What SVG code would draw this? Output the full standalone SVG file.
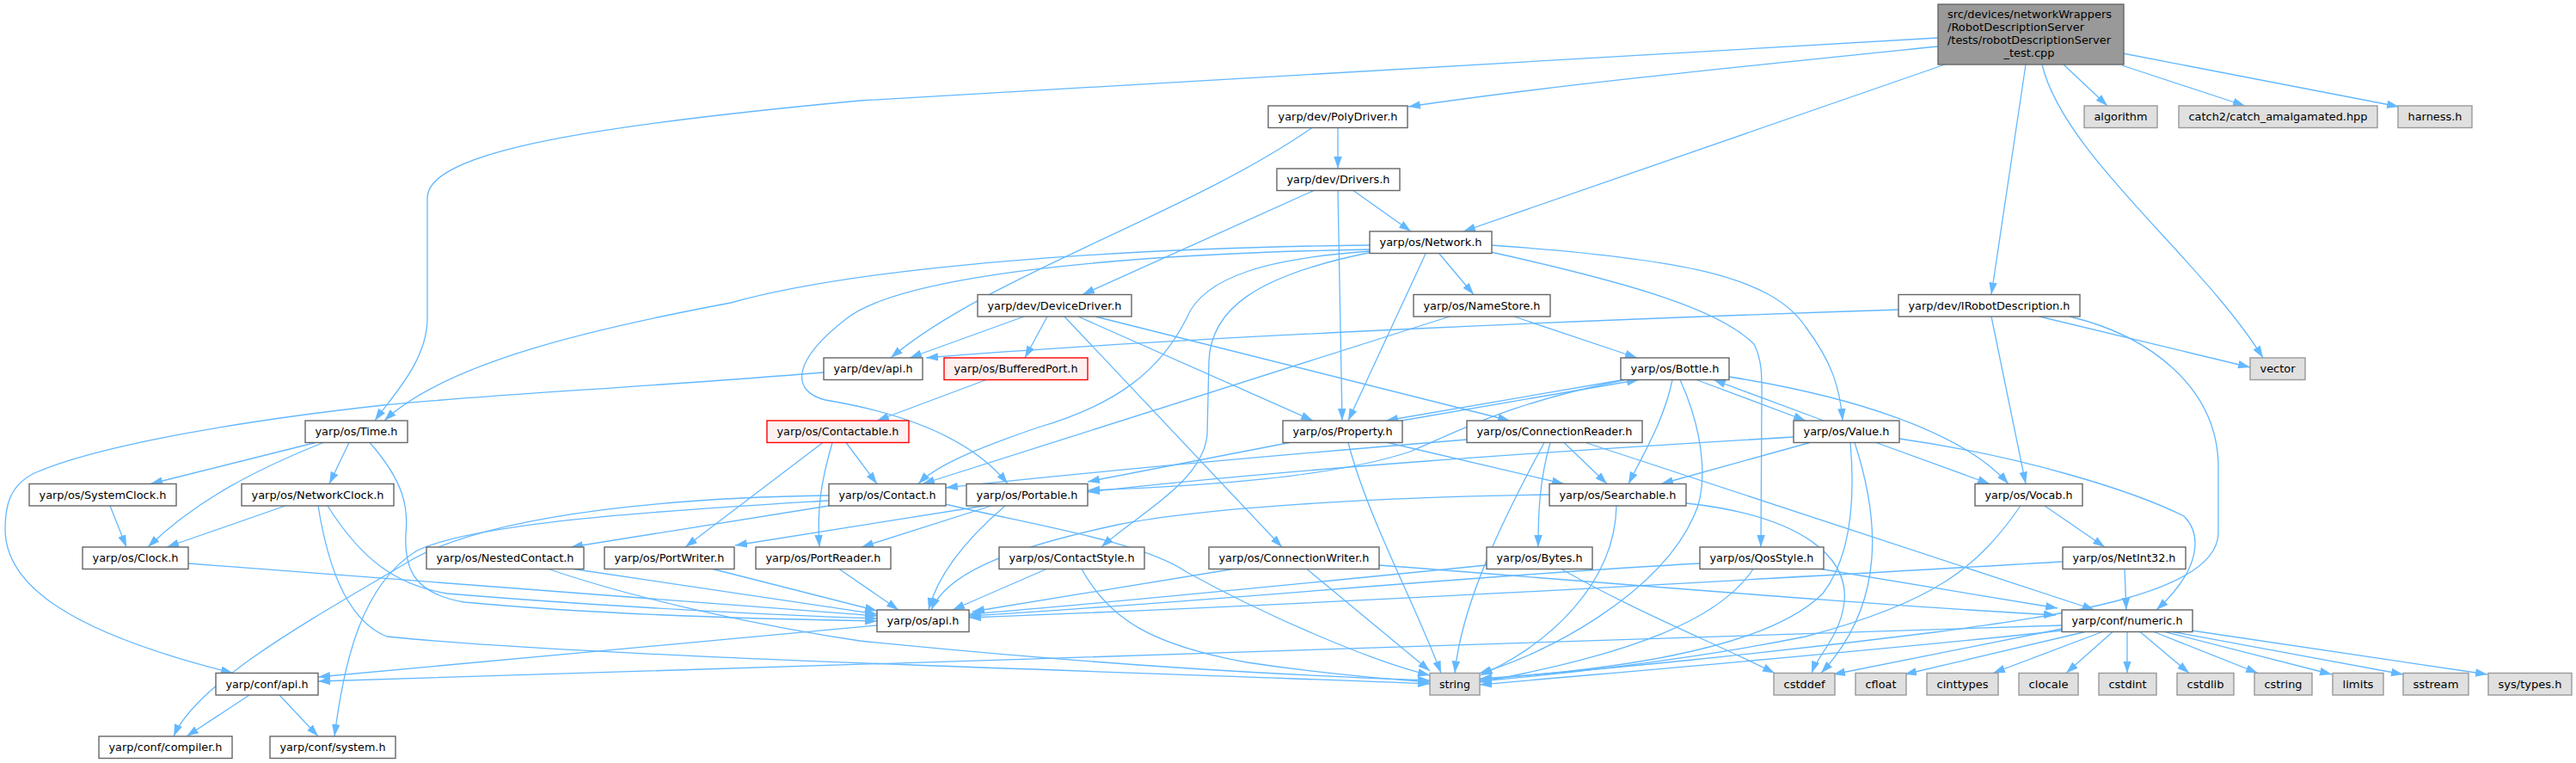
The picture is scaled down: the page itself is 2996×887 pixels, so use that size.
<svg xmlns="http://www.w3.org/2000/svg" width="2996" height="887" viewBox="0 0 2996 887">
<defs>
<style>
.e{fill:none;stroke:#63b8ff;stroke-width:1.3;marker-end:url(#a)}
.n rect{fill:#ffffff;stroke:#666666;stroke-width:1.4}
.x rect{fill:#e0e0e0;stroke:#999999;stroke-width:1.4}
.r rect{fill:#fff0f0;stroke:#ff0000;stroke-width:1.4}
.m rect{fill:#999999;stroke:#666666;stroke-width:1.4}
text{font-family:"DejaVu Sans","Liberation Sans",sans-serif;font-size:12.8px;fill:#000000;text-anchor:middle}
.l{text-anchor:start}
</style>
<marker id="a" markerUnits="userSpaceOnUse" markerWidth="14" markerHeight="10" refX="14" refY="4.75" orient="auto">
<path d="M0,0 L14,4.75 L0,9.5 Z" fill="#63b8ff"/>
</marker>
</defs>
<rect width="2996" height="887" fill="#ffffff"/>
<g id="connectors">
<path class="e" d="M2254,44 C1700,75 1150,105 1000,117 C700,145 497,175 497,230 L497,370 C497,420 455,462 436,489"/>
<path class="e" d="M2254,54 C2000,80 1800,100 1638,124"/>
<path class="e" d="M2262,75 L1702,269"/>
<path class="e" d="M2356,75 L2316,342.5"/>
<path class="e" d="M2375,75 C2400,180 2560,300 2632,416"/>
<path class="e" d="M2400,75 L2451,123"/>
<path class="e" d="M2468,76 L2611,123"/>
<path class="e" d="M2469,62 L2790,124"/>
<path class="e" d="M1556,148.5 L1556,196"/>
<path class="e" d="M1526,148.5 C1380,250 1150,320 1036,416"/>
<path class="e" d="M1528,221.5 L1259,342.5"/>
<path class="e" d="M1556,221.5 L1561,489"/>
<path class="e" d="M1574,221.5 L1641,269"/>
<path class="e" d="M1593,285 C1300,288 1000,310 850,352 C700,380 520,420 447,489"/>
<path class="e" d="M1593,290 C1300,295 1050,320 985,370 C920,420 920,455 960,465 C1050,480 1130,510 1172,562.5"/>
<path class="e" d="M1593,292 C1480,300 1400,320 1380,370 C1350,430 1300,470 1207,497 C1140,520 1090,540 1068,562.5"/>
<path class="e" d="M1596,293 C1460,320 1408,360 1406,420 L1404,505 C1400,560 1320,600 1281,636"/>
<path class="e" d="M1658,295 L1568,489"/>
<path class="e" d="M1674,295 L1714,342.5"/>
<path class="e" d="M1734,285 C1950,300 2060,320 2100,380 C2130,420 2140,450 2143,489"/>
<path class="e" d="M1734,293 C1900,330 2000,360 2040,400 C2050,420 2049,440 2049,460 L2048,636"/>
<path class="e" d="M1191,368 L1058,416"/>
<path class="e" d="M1218,368 L1192,416"/>
<path class="e" d="M1238,368 L1491,636"/>
<path class="e" d="M1254,368 L1527,489"/>
<path class="e" d="M1274,368 L1756,489"/>
<path class="e" d="M1686,368 L1073,562.5"/>
<path class="e" d="M1761,368 L1904,416"/>
<path class="e" d="M2208,360 C1900,370 1400,390 1077,416"/>
<path class="e" d="M2372,368 L2617,427"/>
<path class="e" d="M2316,368 L2356,562.5"/>
<path class="e" d="M2407,368 C2500,390 2578,450 2580,540 L2580,620 C2578,690 2400,715 2250,735 C2050,760 1850,780 1721,789"/>
<path class="e" d="M1147,441.5 L1020,489"/>
<path class="e" d="M984,514.5 L1020,562.5"/>
<path class="e" d="M957,514.5 L797,636"/>
<path class="e" d="M968,514.5 C955,560 950,590 953,636"/>
<path class="e" d="M367,514.5 L175,562.5"/>
<path class="e" d="M376,514.5 C300,545 230,580 172,636"/>
<path class="e" d="M406,514.5 L383,562.5"/>
<path class="e" d="M430,514.5 C470,560 475,590 472,620 C470,660 480,690 540,700 C700,715 900,720 1020,722"/>
<path class="e" d="M128,588 L147,636"/>
<path class="e" d="M332,588 L194,636"/>
<path class="e" d="M370,588 C380,650 400,720 450,740 C700,765 1300,780 1663,795"/>
<path class="e" d="M381,588 C420,650 460,680 520,690 C700,705 900,715 1020,719"/>
<path class="e" d="M219,655 L1020,716"/>
<path class="e" d="M964,588 L664,636"/>
<path class="e" d="M1099,586 C1200,610 1330,630 1380,665 C1480,720 1600,770 1663,785"/>
<path class="e" d="M964,576 C800,578 580,595 480,650 C380,710 230,790 202,856"/>
<path class="e" d="M964,582 C800,592 560,605 485,640 C420,680 400,770 389,856"/>
<path class="e" d="M1145,588 L855,634"/>
<path class="e" d="M1153,588 L1002,636"/>
<path class="e" d="M1169,588 C1120,630 1090,670 1080,709"/>
<path class="e" d="M1630,489 L1906,441.5"/>
<path class="e" d="M1888,441.5 L1612,489"/>
<path class="e" d="M1500,514.5 L1265,560"/>
<path class="e" d="M1614,514.5 L1819,562.5"/>
<path class="e" d="M1568,514.5 C1590,600 1645,700 1676,782.5"/>
<path class="e" d="M1706,511 C1500,528 1300,545 1100,567"/>
<path class="e" d="M1819,514.5 L1869,562.5"/>
<path class="e" d="M1796,514.5 C1750,600 1700,700 1692,782.5"/>
<path class="e" d="M1803,514.5 C1790,560 1789,600 1789,636"/>
<path class="e" d="M1844,514.5 L2436,709"/>
<path class="e" d="M2121,489 L1993,441.5"/>
<path class="e" d="M1973,441.5 L2100,489"/>
<path class="e" d="M2086,508 C1800,525 1500,545 1265,572"/>
<path class="e" d="M2105,514.5 L1932,562.5"/>
<path class="e" d="M2182,514.5 L2314,562.5"/>
<path class="e" d="M2209,510 C2350,530 2480,570 2540,600 C2560,620 2562,660 2508,709"/>
<path class="e" d="M2152,514.5 C2156,560 2158,640 2120,690 C2050,760 1850,780 1721,790"/>
<path class="e" d="M2157,514.5 C2185,600 2195,700 2118,782.5"/>
<path class="e" d="M1890,441.5 C1750,470 1700,500 1640,525 C1550,555 1400,565 1265,570"/>
<path class="e" d="M1945,441.5 C1935,490 1910,530 1894,562.5"/>
<path class="e" d="M1954,441.5 C1985,510 1985,570 1970,600 C1930,690 1800,760 1720,783"/>
<path class="e" d="M2011,438 C2150,460 2280,500 2336,562.5"/>
<path class="e" d="M1802,575 C1600,578 1400,590 1300,610 C1160,640 1100,670 1083,709"/>
<path class="e" d="M1880,588 C1878,680 1800,750 1722,785"/>
<path class="e" d="M1961,585 C2100,600 2150,650 2145,700 C2140,740 2115,760 2107,782.5"/>
<path class="e" d="M2378,588 L2448,636"/>
<path class="e" d="M2350,588 C2300,660 2250,700 2100,740 C1950,770 1800,785 1721,792"/>
<path class="e" d="M2471,661.5 L2473,709"/>
<path class="e" d="M2399,653 C2100,670 1600,700 1127,718"/>
<path class="e" d="M1977,655 C1700,670 1400,700 1127,716"/>
<path class="e" d="M2039,661.5 C2000,720 1900,760 1721,793"/>
<path class="e" d="M2118,661.5 L2393,707"/>
<path class="e" d="M1729,657 C1500,680 1300,700 1127,714"/>
<path class="e" d="M1816,661.5 C1900,710 2000,750 2064,782.5"/>
<path class="e" d="M1434,661.5 L1131,711"/>
<path class="e" d="M1520,661.5 L1663,780"/>
<path class="e" d="M1604,657 C1900,680 2200,705 2391,715"/>
<path class="e" d="M1217,661.5 L1108,709"/>
<path class="e" d="M1258,661.5 C1290,720 1340,750 1450,770 C1550,785 1620,790 1663,793"/>
<path class="e" d="M667,661.5 L1020,714"/>
<path class="e" d="M638,661.5 C750,700 900,730 1000,745 C1300,775 1500,785 1663,791"/>
<path class="e" d="M829,661.5 L1020,710"/>
<path class="e" d="M976,661.5 L1045,709"/>
<path class="e" d="M1020,727 L370,787"/>
<path class="e" d="M2398,727 C2000,745 1000,770 370,792"/>
<path class="e" d="M2398,733 C2200,755 1900,780 1721,796"/>
<path class="e" d="M2398,731 L2132,784"/>
<path class="e" d="M2425,734.5 L2215,784"/>
<path class="e" d="M2445,734.5 L2318,782.5"/>
<path class="e" d="M2457,734.5 L2403,782.5"/>
<path class="e" d="M2474,734.5 L2474,782.5"/>
<path class="e" d="M2489,734.5 L2546,782.5"/>
<path class="e" d="M2505,734.5 L2626,782.5"/>
<path class="e" d="M2518,734.5 L2712,784"/>
<path class="e" d="M2527,734.5 L2795,784"/>
<path class="e" d="M2549,733 L2893,784"/>
<path class="e" d="M958,433 C750,450 550,460 446,471 C300,487 120,515 40,550 C10,565 6,590 6,615 C6,680 80,735 271,782.5"/>
<path class="e" d="M290,808 L217,856"/>
<path class="e" d="M325,808 L370,856"/>
</g>
<g id="n_main" class="m"><rect x="2254" y="5" width="216" height="70"/>
<text class="l" x="2265" y="21" textLength="191" lengthAdjust="spacingAndGlyphs">src/devices/networkWrappers</text>
<text class="l" x="2265" y="36" textLength="159" lengthAdjust="spacingAndGlyphs">/RobotDescriptionServer</text>
<text class="l" x="2265" y="51" textLength="190" lengthAdjust="spacingAndGlyphs">/tests/robotDescriptionServer</text>
<text x="2360" y="66" textLength="59" lengthAdjust="spacingAndGlyphs">_test.cpp</text></g>
<g id="n_polydriver" class="n"><rect x="1475" y="123" width="162" height="25.5"/><text x="1556" y="140.3" textLength="139" lengthAdjust="spacingAndGlyphs">yarp/dev/PolyDriver.h</text></g>
<g id="n_algorithm" class="x"><rect x="2424" y="123" width="85" height="25.5"/><text x="2466.5" y="140.3" textLength="62" lengthAdjust="spacingAndGlyphs">algorithm</text></g>
<g id="n_catch2" class="x"><rect x="2534" y="123" width="231" height="25.5"/><text x="2649.5" y="140.3" textLength="208" lengthAdjust="spacingAndGlyphs">catch2/catch_amalgamated.hpp</text></g>
<g id="n_harness" class="x"><rect x="2789" y="123" width="86" height="25.5"/><text x="2832" y="140.3" textLength="63" lengthAdjust="spacingAndGlyphs">harness.h</text></g>
<g id="n_drivers" class="n"><rect x="1485" y="196" width="143" height="25.5"/><text x="1556.5" y="213.3" textLength="120" lengthAdjust="spacingAndGlyphs">yarp/dev/Drivers.h</text></g>
<g id="n_network" class="n"><rect x="1593" y="269" width="142" height="25.5"/><text x="1664" y="286.3" textLength="119" lengthAdjust="spacingAndGlyphs">yarp/os/Network.h</text></g>
<g id="n_devicedriver" class="n"><rect x="1137" y="342.5" width="179" height="25.5"/><text x="1226.5" y="359.8" textLength="156" lengthAdjust="spacingAndGlyphs">yarp/dev/DeviceDriver.h</text></g>
<g id="n_namestore" class="n"><rect x="1644" y="342.5" width="159" height="25.5"/><text x="1723.5" y="359.8" textLength="136" lengthAdjust="spacingAndGlyphs">yarp/os/NameStore.h</text></g>
<g id="n_irobot" class="n"><rect x="2208" y="342.5" width="211" height="25.5"/><text x="2313.5" y="359.8" textLength="188" lengthAdjust="spacingAndGlyphs">yarp/dev/IRobotDescription.h</text></g>
<g id="n_devapi" class="n"><rect x="958" y="416" width="115" height="25.5"/><text x="1015.5" y="433.3" textLength="92" lengthAdjust="spacingAndGlyphs">yarp/dev/api.h</text></g>
<g id="n_bufferedport" class="r"><rect x="1098" y="416" width="167" height="25.5"/><text x="1181.5" y="433.3" textLength="144" lengthAdjust="spacingAndGlyphs">yarp/os/BufferedPort.h</text></g>
<g id="n_bottle" class="n"><rect x="1885" y="416" width="126" height="25.5"/><text x="1948" y="433.3" textLength="103" lengthAdjust="spacingAndGlyphs">yarp/os/Bottle.h</text></g>
<g id="n_vector" class="x"><rect x="2617" y="416" width="64" height="25.5"/><text x="2649" y="433.3" textLength="41" lengthAdjust="spacingAndGlyphs">vector</text></g>
<g id="n_time" class="n"><rect x="355" y="489" width="119" height="25.5"/><text x="414.5" y="506.3" textLength="96" lengthAdjust="spacingAndGlyphs">yarp/os/Time.h</text></g>
<g id="n_contactable" class="r"><rect x="892" y="489" width="165" height="25.5"/><text x="974.5" y="506.3" textLength="142" lengthAdjust="spacingAndGlyphs">yarp/os/Contactable.h</text></g>
<g id="n_property" class="n"><rect x="1492" y="489" width="139" height="25.5"/><text x="1561.5" y="506.3" textLength="116" lengthAdjust="spacingAndGlyphs">yarp/os/Property.h</text></g>
<g id="n_connreader" class="n"><rect x="1706" y="489" width="204" height="25.5"/><text x="1808" y="506.3" textLength="181" lengthAdjust="spacingAndGlyphs">yarp/os/ConnectionReader.h</text></g>
<g id="n_value" class="n"><rect x="2086" y="489" width="123" height="25.5"/><text x="2147.5" y="506.3" textLength="100" lengthAdjust="spacingAndGlyphs">yarp/os/Value.h</text></g>
<g id="n_systemclock" class="n"><rect x="34" y="562.5" width="171" height="25.5"/><text x="119.5" y="579.8" textLength="148" lengthAdjust="spacingAndGlyphs">yarp/os/SystemClock.h</text></g>
<g id="n_networkclock" class="n"><rect x="281" y="562.5" width="177" height="25.5"/><text x="369.5" y="579.8" textLength="154" lengthAdjust="spacingAndGlyphs">yarp/os/NetworkClock.h</text></g>
<g id="n_contact" class="n"><rect x="964" y="562.5" width="136" height="25.5"/><text x="1032" y="579.8" textLength="113" lengthAdjust="spacingAndGlyphs">yarp/os/Contact.h</text></g>
<g id="n_portable" class="n"><rect x="1124" y="562.5" width="141" height="25.5"/><text x="1194.5" y="579.8" textLength="118" lengthAdjust="spacingAndGlyphs">yarp/os/Portable.h</text></g>
<g id="n_searchable" class="n"><rect x="1802" y="562.5" width="159" height="25.5"/><text x="1881.5" y="579.8" textLength="136" lengthAdjust="spacingAndGlyphs">yarp/os/Searchable.h</text></g>
<g id="n_vocab" class="n"><rect x="2297" y="562.5" width="125" height="25.5"/><text x="2359.5" y="579.8" textLength="102" lengthAdjust="spacingAndGlyphs">yarp/os/Vocab.h</text></g>
<g id="n_clock" class="n"><rect x="96" y="636" width="123" height="25.5"/><text x="157.5" y="653.3" textLength="100" lengthAdjust="spacingAndGlyphs">yarp/os/Clock.h</text></g>
<g id="n_nestedcontact" class="n"><rect x="496" y="636" width="183" height="25.5"/><text x="587.5" y="653.3" textLength="160" lengthAdjust="spacingAndGlyphs">yarp/os/NestedContact.h</text></g>
<g id="n_portwriter" class="n"><rect x="703" y="636" width="151" height="25.5"/><text x="778.5" y="653.3" textLength="128" lengthAdjust="spacingAndGlyphs">yarp/os/PortWriter.h</text></g>
<g id="n_portreader" class="n"><rect x="879" y="636" width="157" height="25.5"/><text x="957.5" y="653.3" textLength="134" lengthAdjust="spacingAndGlyphs">yarp/os/PortReader.h</text></g>
<g id="n_contactstyle" class="n"><rect x="1162" y="636" width="169" height="25.5"/><text x="1246.5" y="653.3" textLength="146" lengthAdjust="spacingAndGlyphs">yarp/os/ContactStyle.h</text></g>
<g id="n_connwriter" class="n"><rect x="1406" y="636" width="198" height="25.5"/><text x="1505" y="653.3" textLength="175" lengthAdjust="spacingAndGlyphs">yarp/os/ConnectionWriter.h</text></g>
<g id="n_bytes" class="n"><rect x="1729" y="636" width="123" height="25.5"/><text x="1790.5" y="653.3" textLength="100" lengthAdjust="spacingAndGlyphs">yarp/os/Bytes.h</text></g>
<g id="n_qosstyle" class="n"><rect x="1977" y="636" width="144" height="25.5"/><text x="2049" y="653.3" textLength="121" lengthAdjust="spacingAndGlyphs">yarp/os/QosStyle.h</text></g>
<g id="n_netint32" class="n"><rect x="2399" y="636" width="143" height="25.5"/><text x="2470.5" y="653.3" textLength="120" lengthAdjust="spacingAndGlyphs">yarp/os/NetInt32.h</text></g>
<g id="n_osapi" class="n"><rect x="1020" y="709" width="107" height="25.5"/><text x="1073.5" y="726.3" textLength="84" lengthAdjust="spacingAndGlyphs">yarp/os/api.h</text></g>
<g id="n_numeric" class="n"><rect x="2398" y="709" width="152" height="25.5"/><text x="2474" y="726.3" textLength="129" lengthAdjust="spacingAndGlyphs">yarp/conf/numeric.h</text></g>
<g id="n_confapi" class="n"><rect x="251" y="782.5" width="119" height="25.5"/><text x="310.5" y="799.8" textLength="96" lengthAdjust="spacingAndGlyphs">yarp/conf/api.h</text></g>
<g id="n_string" class="x"><rect x="1663" y="782.5" width="58" height="25.5"/><text x="1692" y="799.8" textLength="36" lengthAdjust="spacingAndGlyphs">string</text></g>
<g id="n_cstddef" class="x"><rect x="2063" y="782.5" width="71" height="25.5"/><text x="2098.5" y="799.8" textLength="48" lengthAdjust="spacingAndGlyphs">cstddef</text></g>
<g id="n_cfloat" class="x"><rect x="2158" y="782.5" width="59" height="25.5"/><text x="2187.5" y="799.8" textLength="36" lengthAdjust="spacingAndGlyphs">cfloat</text></g>
<g id="n_cinttypes" class="x"><rect x="2241" y="782.5" width="83" height="25.5"/><text x="2282.5" y="799.8" textLength="60" lengthAdjust="spacingAndGlyphs">cinttypes</text></g>
<g id="n_clocale" class="x"><rect x="2348" y="782.5" width="69" height="25.5"/><text x="2382.5" y="799.8" textLength="46" lengthAdjust="spacingAndGlyphs">clocale</text></g>
<g id="n_cstdint" class="x"><rect x="2441" y="782.5" width="67" height="25.5"/><text x="2474.5" y="799.8" textLength="44" lengthAdjust="spacingAndGlyphs">cstdint</text></g>
<g id="n_cstdlib" class="x"><rect x="2532" y="782.5" width="66" height="25.5"/><text x="2565" y="799.8" textLength="43" lengthAdjust="spacingAndGlyphs">cstdlib</text></g>
<g id="n_cstring" class="x"><rect x="2622" y="782.5" width="67" height="25.5"/><text x="2655.5" y="799.8" textLength="44" lengthAdjust="spacingAndGlyphs">cstring</text></g>
<g id="n_limits" class="x"><rect x="2713" y="782.5" width="59" height="25.5"/><text x="2742.5" y="799.8" textLength="36" lengthAdjust="spacingAndGlyphs">limits</text></g>
<g id="n_sstream" class="x"><rect x="2795" y="782.5" width="76" height="25.5"/><text x="2833" y="799.8" textLength="53" lengthAdjust="spacingAndGlyphs">sstream</text></g>
<g id="n_systypes" class="x"><rect x="2894" y="782.5" width="97" height="25.5"/><text x="2942.5" y="799.8" textLength="74" lengthAdjust="spacingAndGlyphs">sys/types.h</text></g>
<g id="n_compiler" class="n"><rect x="115" y="856" width="155" height="25.5"/><text x="192.5" y="873.3" textLength="132" lengthAdjust="spacingAndGlyphs">yarp/conf/compiler.h</text></g>
<g id="n_system" class="n"><rect x="314" y="856" width="146" height="25.5"/><text x="387" y="873.3" textLength="123" lengthAdjust="spacingAndGlyphs">yarp/conf/system.h</text></g>
</svg>
